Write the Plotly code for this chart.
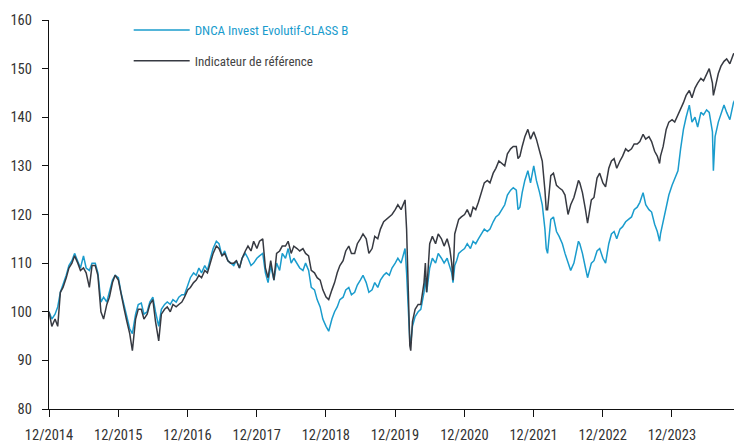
import plotly.graph_objects as go

dates = [
 "2014-12-31","2015-01-15","2015-02-01","2015-02-15","2015-03-01","2015-03-15","2015-04-01","2015-04-15",
 "2015-05-01","2015-05-15","2015-06-01","2015-06-15","2015-07-01","2015-07-15","2015-08-01","2015-08-15",
 "2015-09-01","2015-09-15","2015-10-01","2015-10-15","2015-11-01","2015-11-15","2015-12-01","2015-12-15",
 "2016-01-01","2016-01-15","2016-02-01","2016-02-15","2016-03-01","2016-03-15","2016-04-01","2016-04-15",
 "2016-05-01","2016-05-15","2016-06-01","2016-06-15","2016-07-01","2016-07-15","2016-08-01","2016-08-15",
 "2016-09-01","2016-09-15","2016-10-01","2016-10-15","2016-11-01","2016-11-15","2016-12-01","2016-12-15",
 "2017-01-01","2017-01-15","2017-02-01","2017-02-15","2017-03-01","2017-03-15","2017-04-01","2017-04-15",
 "2017-05-01","2017-05-15","2017-06-01","2017-06-15","2017-07-01","2017-07-15","2017-08-01","2017-08-15",
 "2017-09-01","2017-09-15","2017-10-01","2017-10-15","2017-11-01","2017-11-15","2017-12-01","2017-12-15",
 "2018-01-01","2018-01-15","2018-02-01","2018-02-15","2018-03-01","2018-03-15","2018-04-01","2018-04-15",
 "2018-05-01","2018-05-15","2018-06-01","2018-06-15","2018-07-01","2018-07-15","2018-08-01","2018-08-15",
 "2018-09-01","2018-09-15","2018-10-01","2018-10-15","2018-11-01","2018-11-15","2018-12-01","2018-12-15",
 "2019-01-01","2019-01-15","2019-02-01","2019-02-15","2019-03-01","2019-03-15","2019-04-01","2019-04-15",
 "2019-05-01","2019-05-15","2019-06-01","2019-06-15","2019-07-01","2019-07-15","2019-08-01","2019-08-15",
 "2019-09-01","2019-09-15","2019-10-01","2019-10-15","2019-11-01","2019-11-15","2019-12-01","2019-12-15",
 "2020-01-01","2020-01-15","2020-02-01","2020-02-15","2020-02-22","2020-03-01","2020-03-10","2020-03-18",
 "2020-03-23","2020-04-01","2020-04-15","2020-05-01","2020-05-15","2020-06-01","2020-06-08","2020-06-15",
 "2020-07-01","2020-07-15","2020-08-01","2020-08-15","2020-09-01","2020-09-15","2020-10-01","2020-10-15",
 "2020-10-25","2020-11-01","2020-11-10","2020-11-20","2020-12-01","2020-12-15",
 "2021-01-01","2021-01-15","2021-02-01","2021-02-15","2021-03-01","2021-03-15","2021-04-01","2021-04-15",
 "2021-05-01","2021-05-15","2021-06-01","2021-06-15","2021-07-01","2021-07-15","2021-08-01","2021-08-15",
 "2021-09-01","2021-09-15","2021-10-01","2021-10-10","2021-10-20","2021-11-01","2021-11-15","2021-12-01",
 "2021-12-15",
 "2022-01-01","2022-01-15","2022-02-01","2022-02-15","2022-03-01","2022-03-08","2022-03-15","2022-04-01",
 "2022-04-15","2022-05-01","2022-05-15","2022-06-01","2022-06-15","2022-07-01","2022-07-15","2022-08-01",
 "2022-08-15","2022-08-25","2022-09-01","2022-09-15","2022-10-01","2022-10-12","2022-11-01","2022-11-15",
 "2022-12-01","2022-12-15",
 "2023-01-01","2023-01-15","2023-02-01","2023-02-15","2023-03-01","2023-03-15","2023-04-01","2023-04-15",
 "2023-05-01","2023-05-15","2023-06-01","2023-06-15","2023-07-01","2023-07-15","2023-08-01","2023-08-15",
 "2023-09-01","2023-09-15","2023-10-01","2023-10-15","2023-10-27","2023-11-01","2023-11-15","2023-12-01",
 "2023-12-15",
 "2024-01-01","2024-01-15","2024-02-01","2024-02-15","2024-03-01","2024-03-15","2024-04-01","2024-04-15",
 "2024-05-01","2024-05-15","2024-06-01","2024-06-15","2024-07-01","2024-07-15","2024-08-01","2024-08-06",
 "2024-08-15","2024-09-01","2024-09-15","2024-10-01","2024-10-15","2024-11-01","2024-11-20","2024-12-10",
 "2024-12-31",
]

fund = [
 100, 98.5, 99.5, 101, 104, 105.5, 107.5, 109.5,
 110.5, 112, 110.5, 109, 111.5, 109, 108.5, 110,
 110, 108, 102, 103, 102, 104, 106.5, 107.5,
 107, 104, 101, 99, 96.5, 95.5, 99.5, 101.5,
 101.8, 99.5, 100, 102, 103, 100, 97, 100.5,
 101.5, 102, 101.5, 102.5, 102, 103, 103.5, 103.5,
 105.5, 107, 108, 107.5, 109, 108, 109.5, 108.5,
 111, 113, 114.5, 114, 111.5, 112.5, 110.5, 110,
 109.5, 110.5, 109, 111, 112, 111, 109.5, 110,
 111, 111.5, 112, 108, 106, 109.5, 106.5, 110,
 108.5, 112, 111, 113, 110, 111, 110, 109,
 108.5, 110, 108.5, 105, 104.5, 102.5, 101, 98.5,
 97, 96, 98.5, 100, 101, 102.5, 103, 104.5,
 105, 103.5, 104, 105.5, 106.5, 107.5, 106, 104,
 104.5, 106, 105, 106.5, 107.5, 108, 107.5, 109,
 110, 111, 110, 112, 113, 108, 101, 94,
 93.5, 97, 99, 100, 100.5, 104, 107, 104,
 109, 111, 110, 112, 111, 110, 111, 109.5,
 108, 106, 109.5, 110.5, 112, 112.5,
 113, 114, 113, 114.5, 114, 115, 116, 117,
 116.5, 117, 118.5, 119.5, 120, 121, 122, 124,
 125, 125.5, 125, 121, 121.5, 124.5, 127, 129,
 126.5,
 130, 127, 124.5, 122, 117, 113, 112, 119,
 119.5, 116.5, 115.5, 114, 112, 110, 108.5, 110,
 112.5, 114.5, 114, 112, 109, 107, 110, 110.5,
 112.5, 113,
 111, 110, 114, 116, 116.5, 115, 117, 117.5,
 118.5, 119, 119.5, 121, 121.5, 122.5, 124.5, 122,
 121, 120.5, 118, 116.5, 114.5, 116, 118.5, 121,
 124,
 126, 127.5, 129, 133.5, 137.5, 140, 142.5, 139,
 140, 138, 141, 140.5, 141.5, 141, 137, 129,
 136, 139, 140.5, 142.5, 141, 139.5, 143, 144.5,
 145.5,
]

benchmark = [
 100, 97, 98.5, 97, 104, 105, 107, 109,
 110, 111.5, 110, 108.5, 109, 108, 105, 109.5,
 109.5, 107.5, 100, 98.5, 101.5, 103, 106, 107.5,
 106.5, 103.5, 100.5, 98, 95.5, 92, 98.5, 100.5,
 100.5, 98.5, 99.5, 101.5, 102.5, 98, 94, 99.5,
 100.5, 101, 100, 101.5, 101, 101.5, 102, 103,
 104.5, 105, 106, 106.5, 107.5, 107, 108.5, 108,
 110, 112, 113.5, 113, 111.5, 112, 110.5, 110,
 110, 110.5, 109, 111, 112.5, 113.5, 112.5, 114.5,
 113, 114.5, 115, 109, 107, 110.5, 106.5, 112,
 112.5, 113.5, 113.5, 114.5, 112, 113.5, 113, 112.5,
 113, 112, 111.5, 108.5, 108, 107, 106.5, 104.5,
 103, 102.5, 104.5, 106, 108, 109.5, 110.5, 112.5,
 113.5, 112, 112, 114, 115, 116, 115, 112,
 113, 115.5, 115, 117, 118.5, 119, 119.5, 120,
 121, 122, 121, 122.5, 123, 117, 106, 93,
 92, 98, 100.5, 101.5, 101.5, 106, 110, 104,
 114, 115.5, 114, 116, 115, 113.5, 115, 113,
 110, 106.5, 116, 117.5, 119, 119.5,
 120, 121, 119.5, 121.5, 121, 122.5, 124.5, 126.5,
 127, 126.5, 128.5, 129.5, 131, 130.5, 130, 132.5,
 133.5, 134, 134, 131.5, 132, 134, 136, 137.5,
 135.5,
 137, 135.5, 133, 131, 125, 121, 121, 128,
 128.5, 126, 125.5, 125, 124, 120, 122, 123.5,
 125.5, 127, 126.5, 124.5, 121, 118.2, 123, 123.5,
 127.5, 128.5,
 126.5, 125.7, 129.5, 131, 131.5, 129.5, 131, 132,
 133.5, 133, 133.5, 134.5, 134.5, 135, 136.5, 135.5,
 136, 135, 133, 132, 130.5, 132, 134, 137.5,
 139,
 139.5, 139, 140.5, 141.5, 143, 144.5, 145.5, 144,
 146, 147, 148, 147.5, 149, 150, 147, 144.5,
 146, 149, 150.5, 151.5, 152, 151, 153, 153.5,
 154.5,
]

tick_dates = ["2014-12-31","2015-12-31","2016-12-31","2017-12-31","2018-12-31",
              "2019-12-31","2020-12-31","2021-12-31","2022-12-31","2023-12-31"]
tick_labels = ["12/2014","12/2015","12/2016","12/2017","12/2018",
               "12/2019","12/2020","12/2021","12/2022","12/2023"]
y_ticks = [80, 90, 100, 110, 120, 130, 140, 150, 160]

BLUE = "#1a9ccd"
DARK = "#373a42"
FONT = "Roboto Condensed, Liberation Sans Narrow, DejaVu Sans Condensed, sans-serif"

fig = go.Figure()
fig.add_trace(go.Scatter(
    x=dates, y=fund, mode="lines",
    name=f"<span style='color:{BLUE}'>DNCA Invest Evolutif-CLASS B</span>",
    line=dict(color=BLUE, width=1.5), legendgroup="a"))
fig.add_trace(go.Scatter(
    x=dates, y=benchmark, mode="lines",
    name="<span style='color:#444444'>Indicateur de référence</span>",
    line=dict(color=DARK, width=1.5), legendgroup="b"))

fig.update_layout(
    width=734, height=437,
    margin=dict(l=41, r=0, t=12, b=36),
    paper_bgcolor="white", plot_bgcolor="white",
    font=dict(family=FONT, size=14, color="#333"),
    showlegend=True,
    legend=dict(x=0.115, y=1.013, xanchor="left", yanchor="top",
                bgcolor="rgba(0,0,0,0)", itemwidth=56,
                tracegroupgap=11, font=dict(size=13)),
    xaxis=dict(range=["2014-12-31", "2025-01-04"], tickvals=tick_dates, ticktext=tick_labels,
               showgrid=False, zeroline=False, showline=True, linecolor="#111", linewidth=1.3,
               ticks="outside", ticklen=7, tickcolor="#111", tickwidth=1.3,
               ticklabelstandoff=5,
               tickfont=dict(size=14.5, color="#333")),
    yaxis=dict(range=[80, 160], tickvals=y_ticks,
               showgrid=False, zeroline=False, showline=True, linecolor="#111", linewidth=1.3,
               ticks="outside", ticklen=6, tickcolor="#111", tickwidth=1.3,
               ticklabelstandoff=7,
               tickfont=dict(size=14.5, color="#333")),
)

fig.write_html("out.html")
